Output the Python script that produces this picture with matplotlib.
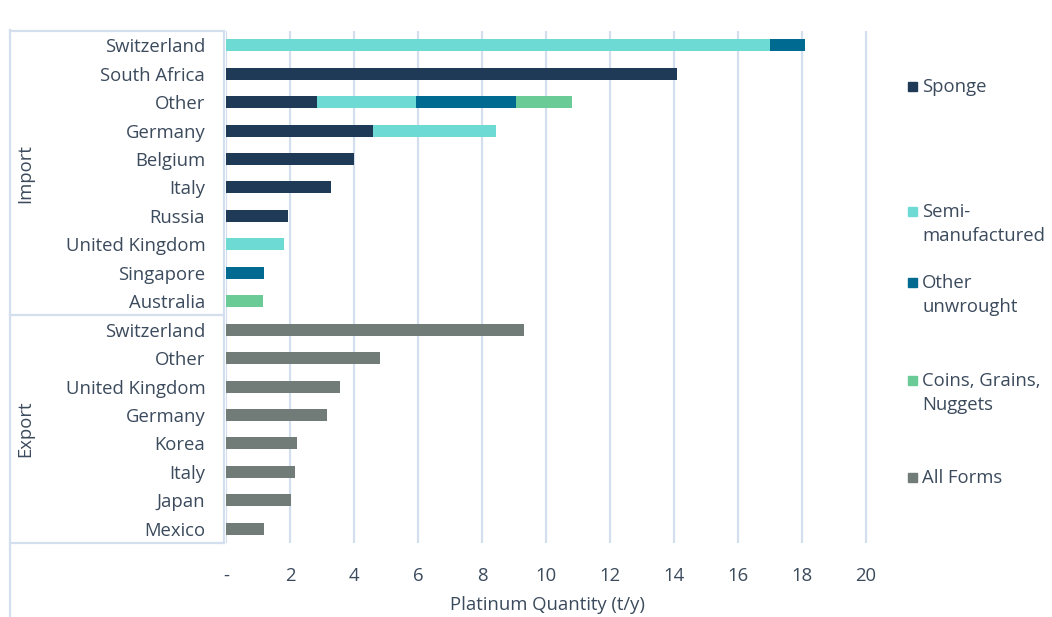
import matplotlib
matplotlib.use("Agg")
import matplotlib.pyplot as plt
from matplotlib.patches import Rectangle
from matplotlib.lines import Line2D
import numpy as np

plt.rcParams['font.family'] = ['Open Sans', 'DejaVu Sans']

# data (t/y)
import_countries = ["Switzerland", "South Africa", "Other", "Germany", "Belgium",
                    "Italy", "Russia", "United Kingdom", "Singapore", "Australia"]
sponge    = [0.0, 14.1, 2.85, 4.6, 4.0, 3.28, 1.93, 0.0, 0.0, 0.0]
semi      = [17.0, 0.0, 3.1, 3.84, 0.0, 0.0, 0.0, 1.82, 0.0, 0.0]
unwrought = [1.1, 0.0, 3.1, 0.0, 0.0, 0.0, 0.0, 0.0, 1.19, 0.0]
coins     = [0.0, 0.0, 1.75, 0.0, 0.0, 0.0, 0.0, 0.0, 0.0, 1.16]

export_countries = ["Switzerland", "Other", "United Kingdom", "Germany", "Korea",
                    "Italy", "Japan", "Mexico"]
all_forms = [9.32, 4.81, 3.56, 3.16, 2.22, 2.15, 2.03, 1.19]

series_names = ["Sponge", "Semi-\nmanufactured", "Other\nunwrought",
                "Coins, Grains,\nNuggets", "All Forms"]
colors = ["#1f3a56", "#6ddbd3", "#006a91", "#6acb96", "#717b78"]
txt = "#3b4a5c"
line_c = "#d3dfee"
fs = 13.3

W, H = 1052, 617
fig = plt.figure(figsize=(W / 100, H / 100), dpi=100)
ax = fig.add_axes([226 / W, 1 - 543 / H, 642 / W, (543 - 31) / H])

n_imp, n_exp = len(import_countries), len(export_countries)
y_imp = np.arange(n_imp)
y_exp = np.arange(n_imp, n_imp + n_exp)
h = 0.42

left = np.zeros(n_imp)
for vals, c in zip([sponge, semi, unwrought, coins], colors[:4]):
    v = np.array(vals)
    ax.barh(y_imp, v, left=left, height=h, color=c, zorder=3)
    left += v
ax.barh(y_exp, all_forms, height=h, color=colors[4], zorder=3)

ax.set_xlim(0, 20 * 642 / 640)
ax.set_ylim(n_imp + n_exp - 0.5, -0.5)
ax.set_xticks(np.arange(0, 21, 2))
ax.set_xticklabels(["-"] + [str(v) for v in range(2, 21, 2)])
ax.set_yticks(np.concatenate([y_imp, y_exp]))
ax.set_yticklabels(import_countries + export_countries)
ax.tick_params(length=0, labelsize=fs, colors=txt, pad=15)
ax.tick_params(axis='x', pad=17)
ax.xaxis.grid(True, color=line_c, lw=1.6, zorder=0)
for s in ax.spines.values():
    s.set_visible(False)
ax.set_xlabel("Platinum Quantity (t/y)", fontsize=fs, color=txt, labelpad=8)

# category table lines
tr = ax.get_yaxis_transform()
x0 = (10 - 226) / 642
xr = -2 / 642
for yy in [-0.5, n_imp - 0.5, n_imp + n_exp - 0.5]:
    ax.add_line(Line2D([x0, xr], [yy, yy], transform=tr, color=line_c,
                       lw=1.6, clip_on=False))
ax.add_line(Line2D([xr, xr], [-0.5, n_imp + n_exp - 0.5], transform=tr,
                   color=line_c, lw=1.6, clip_on=False))
fig.add_artist(Line2D([10 / W, 10 / W], [0, 1 - 30 / H], color=line_c, lw=1.6))

xg = (25 - 226) / 642
ax.text(xg, (n_imp - 1) / 2, "Import", transform=tr, rotation=90,
        ha='center', va='center', fontsize=fs, color=txt)
ax.text(xg, n_imp + (n_exp - 1) / 2, "Export", transform=tr, rotation=90,
        ha='center', va='center', fontsize=fs, color=txt)

# legend
leg_y = [86, 211, 282, 380, 477]
for name, c, yy in zip(series_names, colors, leg_y):
    fig.add_artist(Rectangle((908 / W, 1 - (yy + 5) / H), 9 / W, 9 / H,
                             color=c, transform=fig.transFigure))
    fig.text(922 / W, 1 - (yy - 8) / H, name, ha='left', va='top',
             fontsize=fs, color=txt, linespacing=1.4)

fig.savefig("out.png", dpi=100)
